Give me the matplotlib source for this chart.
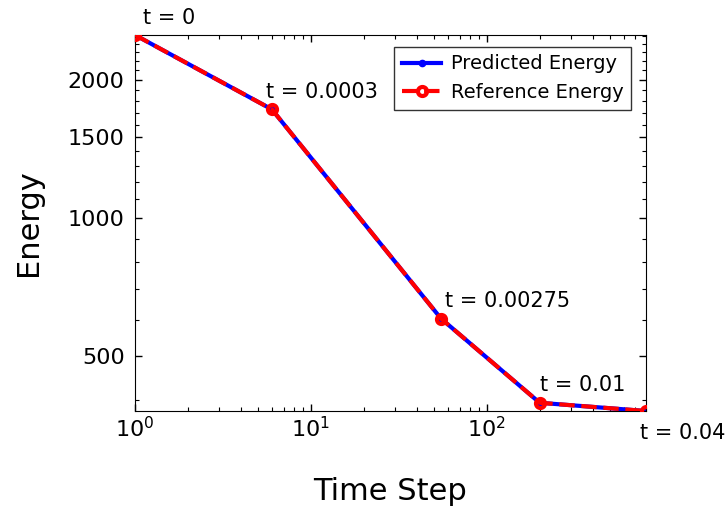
import matplotlib
matplotlib.use("Agg")
import matplotlib.pyplot as plt
from matplotlib.ticker import FixedLocator, MultipleLocator, NullFormatter, ScalarFormatter

# Energy at selected time steps
time_steps = [1, 6, 55, 200, 800]
predicted_energy = [2510, 1727, 603, 395, 379]
reference_energy = [2510, 1727, 603, 395, 379]
time_labels = ["t = 0", "t = 0.0003", "t = 0.00275", "t = 0.01", "t = 0.04"]
y_ticks = [500, 1000, 1500, 2000]

# label placement relative to each point (pixels)
label_offsets = [(8, 11), (-6, 11), (4, 12), (0, 12), (-6, -28)]

fig = plt.figure(figsize=(7.27, 5.11), dpi=100)
ax = fig.add_axes([0.1857, 0.1957, 0.7023, 0.7358])

ax.plot(time_steps, predicted_energy, color="blue", linestyle="-", linewidth=3,
        marker="o", markersize=4.5, label="Predicted Energy", zorder=2)
ax.plot(time_steps, reference_energy, color="red", linestyle="--", linewidth=3,
        marker="o", markersize=6.5, markerfacecolor="none", markeredgewidth=3,
        label="Reference Energy", zorder=3)

ax.set_xscale("log")
ax.set_yscale("log")
ax.set_xlim(time_steps[0], time_steps[-1])
ax.set_ylim(min(reference_energy), max(reference_energy))

ax.yaxis.set_major_locator(FixedLocator(y_ticks))
ax.yaxis.set_major_formatter(ScalarFormatter())
ax.yaxis.set_minor_locator(MultipleLocator(100))
ax.yaxis.set_minor_formatter(NullFormatter())

ax.tick_params(which="both", direction="in", top=True, right=True, labelsize=16)
ax.tick_params(which="major", length=5, width=1)
ax.tick_params(which="minor", length=3, width=0.8)
ax.tick_params(axis="y", which="major", pad=7.5)

for x, y, lab, (dx, dy) in zip(time_steps, reference_energy, time_labels, label_offsets):
    ax.annotate(lab, (x, y), xytext=(dx, dy), textcoords="offset pixels",
                ha="left", va="baseline", fontsize=15, annotation_clip=False)

ax.set_xlabel("Time Step", fontsize=22, labelpad=26)
ax.set_ylabel("Energy", fontsize=22, labelpad=17.5)

leg = ax.legend(loc="upper right", bbox_to_anchor=(0.972, 0.969), fontsize=14,
                fancybox=False, framealpha=1, edgecolor="#333333", borderaxespad=0,
                handlelength=2.0, handletextpad=0.5, borderpad=0.4, labelspacing=0.5)
leg.get_frame().set_linewidth(1.0)

fig.savefig("out.png", dpi=100)
